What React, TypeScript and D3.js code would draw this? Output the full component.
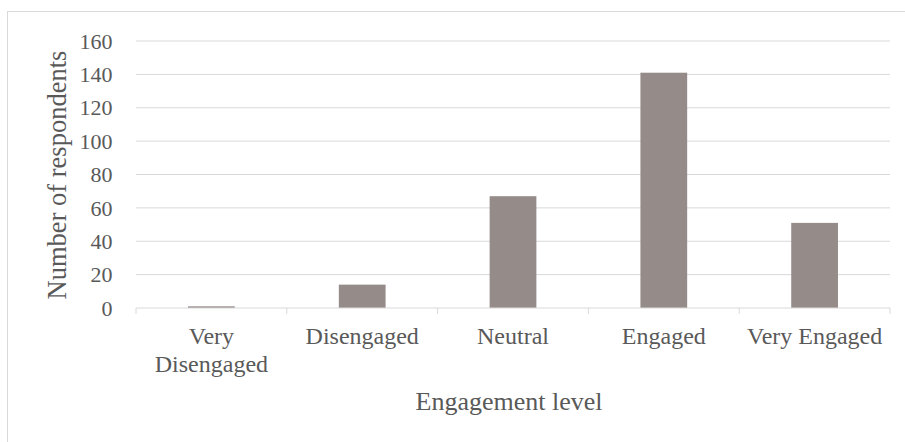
import React from "react";
import * as d3 from "d3";

const categories = ["Very Disengaged", "Disengaged", "Neutral", "Engaged", "Very Engaged"];
const categoryLines = [["Very", "Disengaged"], ["Disengaged"], ["Neutral"], ["Engaged"], ["Very Engaged"]];
const respondents = [1, 14, 67, 141, 51];
const yTicks = [0, 20, 40, 60, 80, 100, 120, 140, 160];

const W = 905;
const H = 442;
const plot = { left: 136, right: 890, top: 41, bottom: 308 };
const font = "'Liberation Serif', 'Times New Roman', serif";
const textColor = "#595959";
const gridColor = "#d9d9d9";

export default function App() {
  const x = d3
    .scaleBand<string>()
    .domain(categories)
    .range([plot.left, plot.right])
    .paddingInner(0.69)
    .paddingOuter(0.345);
  const band = d3.scaleBand<string>().domain(categories).range([plot.left, plot.right]);
  const y = d3.scaleLinear().domain([0, 160]).range([plot.bottom, plot.top]);
  const bounds = [...categories.map((c) => band(c)!), plot.right];

  return (
    <svg
      width={W}
      height={H}
      style={{ position: "absolute", left: 0, top: 0, background: "#fff" }}
      fontFamily={font}
    >
      {/* chart area frame, running off the right and bottom edges */}
      <rect x={7.5} y={11.5} width={W + 10} height={H + 10} fill="#fff" stroke={gridColor} strokeWidth={1} />

      {yTicks.map((t) => (
        <g key={t}>
          {t > 0 && (
            <line x1={plot.left} x2={plot.right} y1={y(t)} y2={y(t)} stroke={gridColor} strokeWidth={1} />
          )}
          <text x={112.5} y={y(t)} dy="0.35em" textAnchor="end" fontSize={22} fill={textColor}>
            {t}
          </text>
        </g>
      ))}

      {categories.map((c, i) => (
        <rect
          key={c}
          x={x(c)}
          y={y(respondents[i])}
          width={x.bandwidth()}
          height={y(0) - y(respondents[i])}
          fill="#958b89"
        />
      ))}

      <line x1={plot.left} x2={plot.right} y1={y(0)} y2={y(0)} stroke={gridColor} strokeWidth={1} />
      {bounds.map((b, i) => (
        <line key={i} x1={b} x2={b} y1={y(0)} y2={y(0) + 6} stroke={gridColor} strokeWidth={1} />
      ))}

      {categories.map((c, i) => {
        const cx = band(c)! + band.bandwidth() / 2;
        return (
          <text key={c} x={cx} y={344} textAnchor="middle" fontSize={24} fill={textColor}>
            {categoryLines[i].map((line, j) => (
              <tspan key={j} x={cx} dy={j === 0 ? 0 : 28}>
                {line}
              </tspan>
            ))}
          </text>
        );
      })}

      <text x={509} y={410} textAnchor="middle" fontSize={26} fill={textColor}>
        Engagement level
      </text>
      <text
        transform={`translate(66, 175) rotate(-90)`}
        textAnchor="middle"
        fontSize={26.5}
        fill={textColor}
      >
        Number of respondents
      </text>
    </svg>
  );
}
